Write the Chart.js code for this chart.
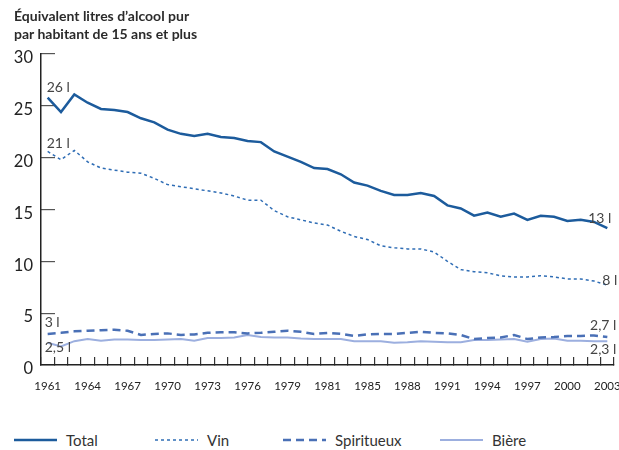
<!DOCTYPE html>
<html lang="fr">
<head>
<meta charset="utf-8">
<title>Consommation d'alcool</title>
<script src="https://cdn.jsdelivr.net/npm/chart.js"></script>
<style>
  body { margin: 0; background: #fff; font-family: Lato, "Noto Sans", sans-serif; color: #333; }
  .wrap { position: relative; width: 619px; height: 450px; overflow: hidden; }
  canvas { position: absolute; left: 0; top: 0; }
  .titre { position: absolute; left: 14px; top: 7px; font-weight: bold; font-size: 14px; line-height: 18px; color: #2b2b2b; }
  .item { position: absolute; top: 431px; height: 18px; display: flex; align-items: center; font-size: 15px; color: #333; }
  .item svg { margin-right: 9px; }
</style>
</head>
<body>
<div class="wrap">
  <canvas id="graphique" width="619" height="400"></canvas>
  <div class="titre">Équivalent litres d’alcool pur<br>par habitant de 15 ans et plus</div>
  <div id="legende"></div>
</div>
<script>
const years = [1961, 1962, 1963, 1964, 1965, 1966, 1967, 1968, 1969, 1970,
  1971, 1972, 1973, 1974, 1975, 1976, 1977, 1978, 1979, 1980,
  1981, 1982, 1983, 1984, 1985, 1986, 1987, 1988, 1989, 1990,
  1991, 1992, 1993, 1994, 1995, 1996, 1997, 1998, 1999, 2000,
  2001, 2002, 2003];

// litres d'alcool pur par habitant
const total = [25.8, 24.4, 26.1, 25.3, 24.7, 24.6, 24.4, 23.8, 23.4, 22.7,
  22.3, 22.1, 22.3, 22.0, 21.9, 21.6, 21.5, 20.6, 20.1, 19.6,
  19.0, 18.9, 18.4, 17.6, 17.3, 16.8, 16.4, 16.4, 16.6, 16.3,
  15.4, 15.1, 14.4, 14.7, 14.3, 14.6, 14.0, 14.4, 14.3, 13.9,
  14.0, 13.8, 13.2];
const vin = [20.6, 19.8, 20.7, 19.6, 19.0, 18.8, 18.6, 18.5, 18.0, 17.4,
  17.2, 17.0, 16.8, 16.6, 16.3, 15.9, 15.9, 14.9, 14.3, 14.0,
  13.7, 13.5, 12.9, 12.4, 12.1, 11.5, 11.3, 11.2, 11.2, 10.9,
  10.0, 9.2, 9.0, 8.9, 8.6, 8.5, 8.5, 8.6, 8.5, 8.3,
  8.3, 8.1, 7.7];
const spiritueux = [3.0, 3.1, 3.25, 3.3, 3.35, 3.4, 3.3, 2.9, 3.0, 3.05,
  2.9, 2.95, 3.1, 3.15, 3.15, 3.05, 3.1, 3.2, 3.3, 3.2,
  3.0, 3.1, 3.0, 2.8, 2.95, 3.0, 3.0, 3.1, 3.2, 3.1,
  3.05, 2.9, 2.5, 2.6, 2.65, 2.9, 2.5, 2.65, 2.7, 2.8,
  2.8, 2.85, 2.7];
const biere = [2.15, 1.8, 2.3, 2.5, 2.35, 2.45, 2.45, 2.4, 2.42, 2.45,
  2.5, 2.35, 2.6, 2.6, 2.65, 2.9, 2.7, 2.65, 2.65, 2.55,
  2.5, 2.5, 2.5, 2.3, 2.3, 2.3, 2.15, 2.2, 2.3, 2.25,
  2.2, 2.2, 2.4, 2.4, 2.45, 2.5, 2.25, 2.5, 2.55, 2.35,
  2.35, 2.3, 2.3];

const seriesNames = ["Total", "Vin", "Spiritueux", "Bière"];
const startLabels = ["26 l", "21 l", "3 l", "2,5 l"];
const endLabels = ["13 l", "8 l", "2,7 l", "2,3 l"];

// années affichées sous l'axe (index dans years)
const xTickIndex = [0, 3, 6, 9, 12, 15, 18, 21, 24, 27, 30, 33, 36, 39, 42];
const xTickText = ["1961", "1964", "1967", "1970", "1973", "1976", "1979", "1981",
  "1985", "1988", "1991", "1994", "1997", "2000", "2003"];

const colors = ["#1c5b9c", "#2f6db5", "#4a70b6", "#9cafdf"];
const widths = [2.5, 1.5, 2.5, 2];
const dashes = [[], [3, 3], [8, 5], []];

const fontFamily = 'Lato, "Noto Sans", sans-serif';
Chart.defaults.font.family = fontFamily;

// position des étiquettes par rapport au premier / dernier point
const labelOffsets = [
  [-1, -10, 4, -10],
  [-1, -8, 10, -5],
  [-3, -11, 9, -12],
  [-3, 5, 9, 8],
];

const etiquettes = {
  id: "etiquettes",
  afterDatasetsDraw(chart) {
    const ctx = chart.ctx;
    ctx.save();
    ctx.font = "14px " + fontFamily;
    ctx.fillStyle = "#444";
    ctx.textBaseline = "middle";
    chart.data.datasets.forEach((ds, i) => {
      const pts = chart.getDatasetMeta(i).data;
      const first = pts[0];
      const last = pts[pts.length - 1];
      const o = labelOffsets[i];
      ctx.textAlign = "left";
      ctx.fillText(startLabels[i], first.x + o[0], first.y + o[1]);
      ctx.textAlign = "right";
      ctx.fillText(endLabels[i], last.x + o[2], last.y + o[3]);
    });
    ctx.restore();
  },
};

const values = [total, vin, spiritueux, biere];

new Chart("graphique", {
  type: "line",
  data: {
    labels: years,
    datasets: values.map((v, i) => ({
      label: seriesNames[i],
      data: v,
      borderColor: colors[i],
      borderWidth: widths[i],
      borderDash: dashes[i],
      pointRadius: 0,
      tension: 0,
      fill: false,
    })),
  },
  options: {
    responsive: false,
    animation: false,
    layout: { padding: { top: 54, right: 5, left: 0, bottom: 0 } },
    plugins: {
      legend: { display: false },
      tooltip: { enabled: false },
    },
    scales: {
      x: {
        offset: true,
        grid: { offset: true, drawOnChartArea: false, tickLength: -8, color: "#333", lineWidth: 1.2 },
        border: { color: "#222", width: 1.5 },
        ticks: {
          autoSkip: false,
          maxRotation: 0,
          padding: 22,
          color: "#222",
          font: { size: 11.5 },
          callback: (v, i) => {
            const k = xTickIndex.indexOf(i);
            return k >= 0 ? xTickText[k] : "";
          },
        },
        afterFit: (s) => {
          s.height = 35;
          s.paddingLeft = 0;
          s.paddingRight = 0;
        },
      },
      y: {
        min: 0,
        max: 30,
        grid: { drawOnChartArea: false, tickLength: -14, color: "#555", lineWidth: 1.2 },
        border: { color: "#222", width: 1.5 },
        ticks: { stepSize: 5, padding: 22, labelOffset: 4, color: "#222", font: { size: 16.5 } },
        afterFit: (s) => { s.width = 41; },
      },
    },
  },
  plugins: [etiquettes],
});

// légende en bas
const legendX = [14, 155, 283, 440];
const legende = document.getElementById("legende");
seriesNames.forEach((name, i) => {
  const item = document.createElement("div");
  item.className = "item";
  item.style.left = legendX[i] + "px";
  item.innerHTML =
    '<svg width="43" height="6"><line x1="0" y1="3" x2="43" y2="3" stroke="' + colors[i] +
    '" stroke-width="' + widths[i] + '" stroke-dasharray="' + (dashes[i].join(" ") || "none") +
    '"/></svg><span>' + name + "</span>";
  legende.appendChild(item);
});
</script>
</body>
</html>
